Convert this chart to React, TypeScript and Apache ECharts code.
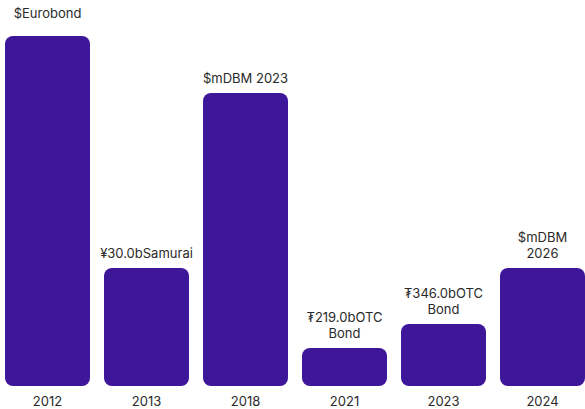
import React, { useEffect, useRef } from "react";
import * as echarts from "echarts";

const categories = ["2012", "2013", "2018", "2021", "2023", "2024"];
const values = [350, 118, 293, 38, 62, 118];
const barLabels = [
  "$Eurobond",
  "¥30.0bSamurai",
  "$mDBM 2023",
  "₮219.0bOTC\nBond",
  "₮346.0bOTC\nBond",
  "$mDBM\n2026",
];

const FONT = "Inter";

export default function App() {
  const ref = useRef<HTMLDivElement>(null);
  useEffect(() => {
    if (!ref.current) return;
    const chart = echarts.init(ref.current, undefined, { renderer: "svg" });
    chart.setOption({
      animation: false,
      grid: {
        left: -2,
        width: 594,
        top: 36,
        bottom: 23,
        containLabel: false,
        outerBoundsMode: "none",
      },
      xAxis: {
        type: "category",
        data: categories,
        axisLine: { show: false },
        axisTick: { show: false },
        axisLabel: {
          color: "#2a2a2a",
          fontFamily: FONT,
          fontSize: 13,
          margin: 8,
        },
      },
      yAxis: {
        type: "value",
        min: 0,
        max: 350,
        show: false,
        splitLine: { show: false },
      },
      series: [
        {
          type: "bar",
          barWidth: 85,
          data: values.map((v, i) => ({
            value: v,
            label: i === 0 ? { distance: 15 } : undefined,
          })),
          itemStyle: { color: "#3d169a", borderRadius: 8 },
          label: {
            show: true,
            position: "top",
            distance: 7,
            color: "#2a2a2a",
            fontFamily: FONT,
            fontSize: 13,
            lineHeight: 16,
            align: "center",
            formatter: (p: any) => barLabels[p.dataIndex],
          },
        },
      ],
    });
    return () => chart.dispose();
  }, []);
  return (
    <div
      ref={ref}
      style={{ width: 585, height: 409, position: "absolute", left: 0, top: 0 }}
    />
  );
}
